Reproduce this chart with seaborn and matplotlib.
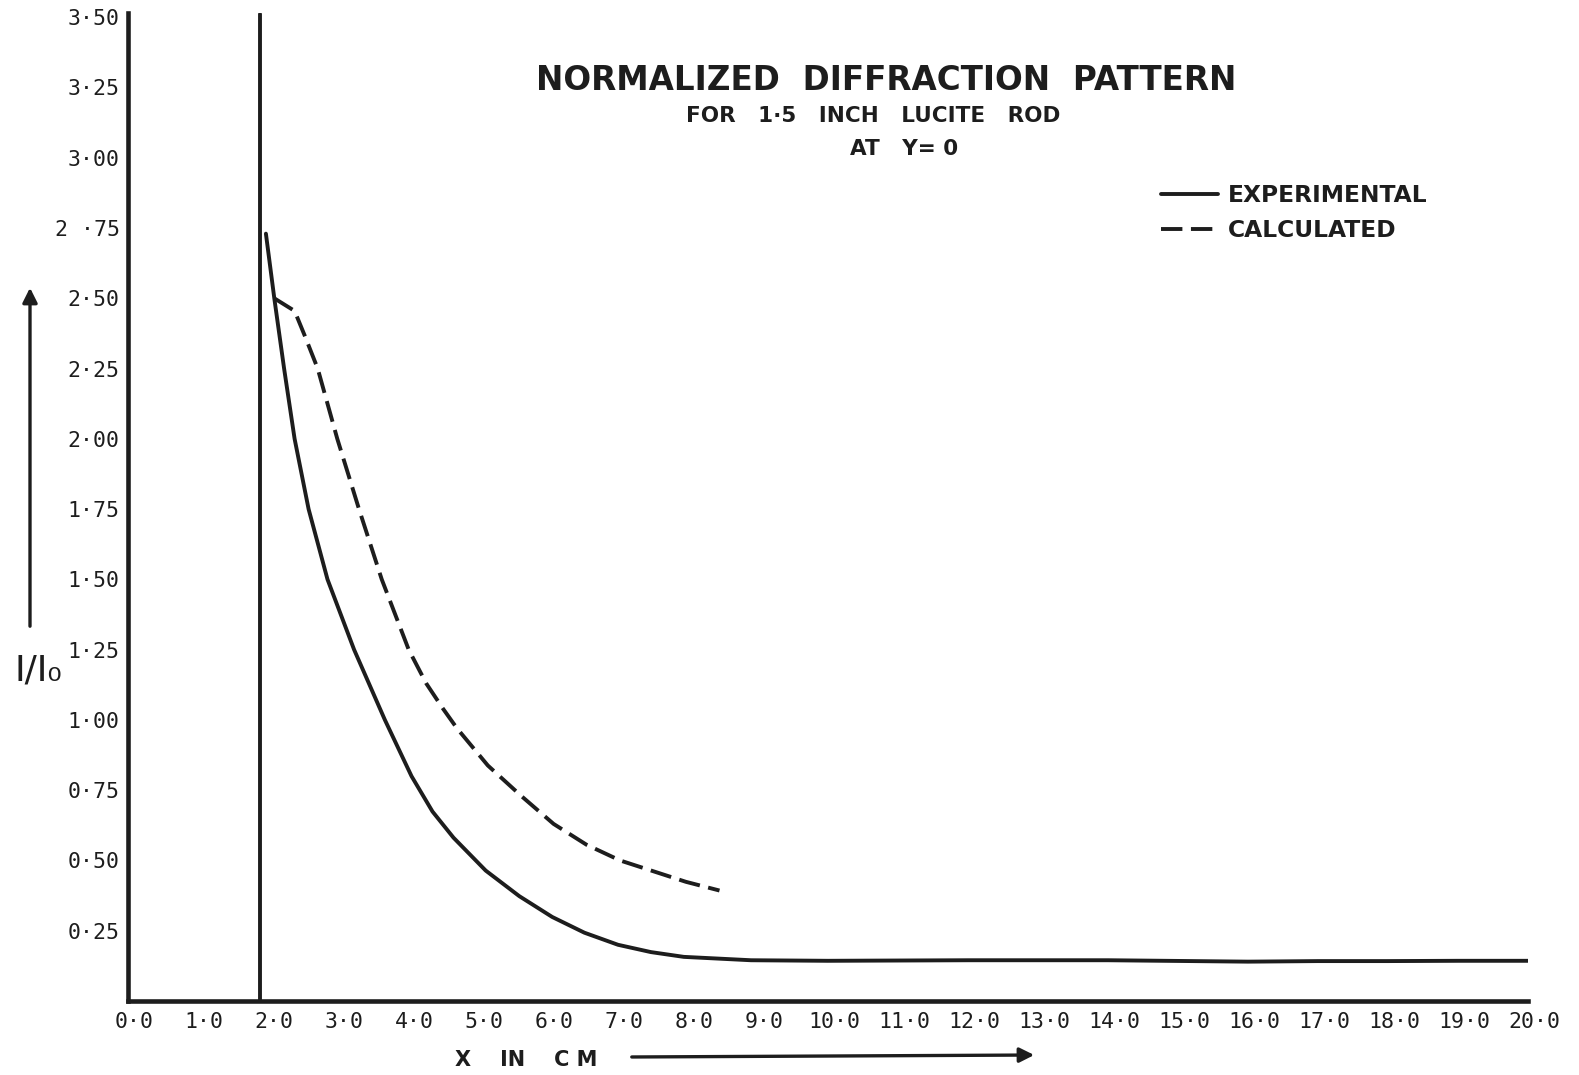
import matplotlib
matplotlib.use("Agg")
import matplotlib.pyplot as plt
import matplotlib.transforms as mtransforms
import seaborn as sns

# ---------------- data ----------------
exp_x = [1.97, 2.09, 2.23, 2.38, 2.58, 2.85, 3.23, 3.67, 4.05, 4.35, 4.65, 5.11,
         5.59, 6.06, 6.52, 7.00, 7.47, 7.94, 8.42, 8.90, 10.0, 12.0, 14.0, 16.0,
         17.0, 18.0, 19.0, 20.0]
exp_y = [2.73, 2.50, 2.25, 2.00, 1.75, 1.50, 1.25, 1.00, 0.800, 0.674, 0.581, 0.464,
         0.373, 0.299, 0.243, 0.200, 0.174, 0.157, 0.151, 0.145, 0.143, 0.145, 0.145, 0.140,
         0.142, 0.142, 0.143, 0.143]
calc_x = [2.09, 2.38, 2.52, 2.71, 2.99, 3.30, 3.625, 4.01, 4.26, 4.50, 4.70, 5.14,
          5.62, 6.08, 6.55, 7.03, 7.50, 7.97, 8.45]
calc_y = [2.50, 2.455, 2.37, 2.25, 2.00, 1.75, 1.50, 1.25, 1.13, 1.04, 0.97, 0.838,
          0.729, 0.630, 0.556, 0.500, 0.462, 0.424, 0.393]
edge_x = [1.88, 1.88]
edge_y = [0.0, 3.51]

x_ticks = list(range(0, 21))
x_tick_labels = ["0·0", "1·0", "2·0", "3·0", "4·0", "5·0", "6·0", "7·0", "8·0", "9·0",
                 "10·0", "11·0", "12·0", "13·0", "14·0", "15·0", "16·0", "17·0", "18·0",
                 "19·0", "20·0"]
y_ticks = [0.25, 0.50, 0.75, 1.00, 1.25, 1.50, 1.75, 2.00, 2.25, 2.50, 2.75, 3.00, 3.25, 3.50]
y_tick_labels = ["0·25", "0·50", "0·75", "1·00", "1·25", "1·50", "1·75", "2·00",
                 "2·25", "2·50", "2 ·75", "3·00", "3·25", "3·50"]

title = "NORMALIZED  DIFFRACTION  PATTERN"
subtitle1 = "FOR   1·5   INCH   LUCITE   ROD"
subtitle2 = "AT   Y= 0"
series_labels = ["EXPERIMENTAL", "CALCULATED"]
x_label = "X    IN    C M"
y_label = "I/I₀"

# ---------------- styling ----------------
sns.set_theme(style="white")
plt.rcParams["font.family"] = ["DejaVu Sans"]
ink = "#1d1d1d"
W, H = 1579, 1075

fig = plt.figure(figsize=(W / 100, H / 100), dpi=100, facecolor="white")
ax = fig.add_axes([128 / W, 74 / H, 1400 / W, 988 / H])
ax.set_facecolor("white")

lw = 2.8
line_style = dict(solid_joinstyle="round", solid_capstyle="round",
                  dash_joinstyle="round", dash_capstyle="butt")
sns.lineplot(x=edge_x, y=edge_y, ax=ax, color=ink, lw=lw, sort=False,
             estimator=None, legend=False)
sns.lineplot(x=exp_x, y=exp_y, ax=ax, color=ink, lw=lw, sort=False,
             estimator=None, label=series_labels[0], **line_style)
sns.lineplot(x=calc_x, y=calc_y, ax=ax, color=ink, lw=lw, sort=False,
             estimator=None, label=series_labels[1], linestyle=(0, (5.5, 2.2)),
             **line_style)

ax.set_xlim(0, 20)
ax.set_ylim(0, 3.515)
tick_font = {"family": ["DejaVu Sans Mono", "DejaVu Sans"], "size": 15.5}
ax.set_xticks(x_ticks)
ax.set_xticklabels(x_tick_labels, fontdict=tick_font, color=ink)
ax.set_yticks(y_ticks)
ax.set_yticklabels(y_tick_labels, fontdict=tick_font, color=ink)
ax.tick_params(axis="both", direction="in", length=11, width=1.7, color=ink)
ax.tick_params(axis="x", pad=8)
ax.tick_params(axis="y", pad=6)
shift = mtransforms.ScaledTranslation(6 / 100, 0, fig.dpi_scale_trans)
for lab in ax.get_xticklabels():
    lab.set_transform(lab.get_transform() + shift)
ax.set_xlabel("")
ax.set_ylabel("")
for s in ["top", "right"]:
    ax.spines[s].set_visible(False)
for s in ["left", "bottom"]:
    ax.spines[s].set_color(ink)
    ax.spines[s].set_linewidth(3.3)
ax.grid(False)

# legend
handles, labels = ax.get_legend_handles_labels()
leg = ax.legend(handles, labels, loc="upper left", bbox_to_anchor=(1161 / W, 1 - 184 / H),
                bbox_transform=fig.transFigure, frameon=False,
                prop={"size": 16.8, "weight": "bold"},
                handlelength=2.45, handletextpad=0.43, labelspacing=0.5,
                borderpad=0, borderaxespad=0)
for t in leg.get_texts():
    t.set_color(ink)

# titles
fig.text(886 / W, 1 - 80 / H, title, ha="center", va="center", fontsize=23.5,
         fontweight="bold", color=ink)
fig.text(873 / W, 1 - 116 / H, subtitle1, ha="center", va="center", fontsize=15.5,
         fontweight="bold", color=ink)
fig.text(904 / W, 1 - 149 / H, subtitle2, ha="center", va="center", fontsize=15.5,
         fontweight="bold", color=ink)

# axis labels and arrows
fig.text(526 / W, 1 - 1060 / H, x_label, ha="center", va="center", fontsize=15,
         fontweight="bold", color=ink)
ax.annotate("", xy=(1037 / W, 1 - 1055 / H), xytext=(629 / W, 1 - 1057 / H),
            xycoords="figure fraction", textcoords="figure fraction",
            annotation_clip=False,
            arrowprops=dict(arrowstyle="-|>", lw=2.4, color=ink, mutation_scale=22))
fig.text(38 / W, 1 - 670 / H, y_label, ha="center", va="center", fontsize=26, color=ink)
ax.annotate("", xy=(30 / W, 1 - 285 / H), xytext=(30 / W, 1 - 629 / H),
            xycoords="figure fraction", textcoords="figure fraction",
            annotation_clip=False,
            arrowprops=dict(arrowstyle="-|>", lw=2.4, color=ink, mutation_scale=22))

fig.savefig("out.png", dpi=100, facecolor="white")
